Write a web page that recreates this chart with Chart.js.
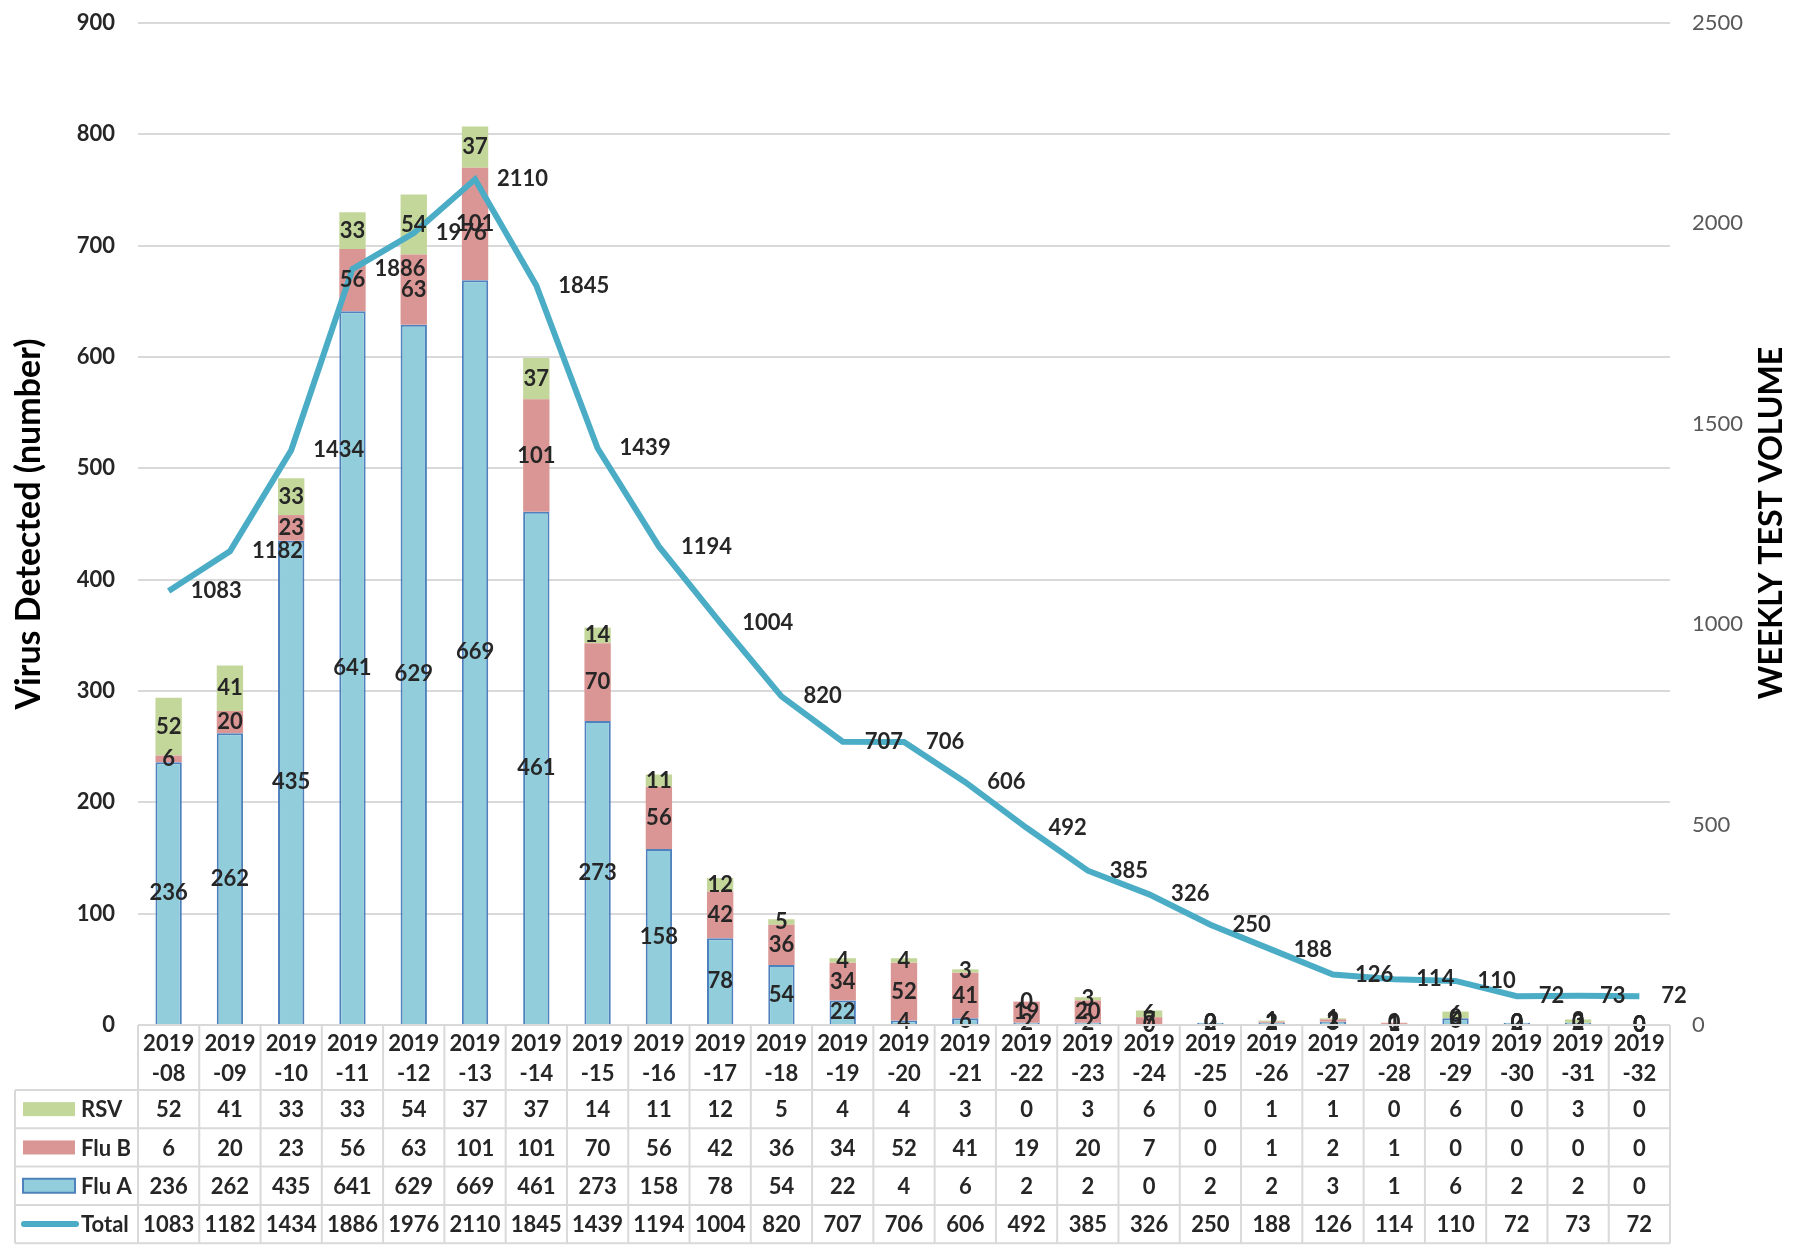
<!DOCTYPE html>
<html>
<head>
<meta charset="utf-8">
<script src="https://cdn.jsdelivr.net/npm/chart.js@4.4.1/dist/chart.umd.min.js"></script>
<style>
  html, body { margin: 0; padding: 0; background: #fff; }
  #wrap { width: 1806px; height: 1254px; position: relative; }
</style>
</head>
<body>
<div id="wrap"><canvas id="virusChart"></canvas></div>
<script>
// ---- data ----
const weeks = ['2019-08','2019-09','2019-10','2019-11','2019-12','2019-13','2019-14','2019-15','2019-16',
  '2019-17','2019-18','2019-19','2019-20','2019-21','2019-22','2019-23','2019-24','2019-25','2019-26',
  '2019-27','2019-28','2019-29','2019-30','2019-31','2019-32'];
const rsv   = [52, 41, 33, 33, 54, 37, 37, 14, 11, 12, 5, 4, 4, 3, 0, 3, 6, 0, 1, 1, 0, 6, 0, 3, 0];
const fluB  = [6, 20, 23, 56, 63, 101, 101, 70, 56, 42, 36, 34, 52, 41, 19, 20, 7, 0, 1, 2, 1, 0, 0, 0, 0];
const fluA  = [236, 262, 435, 641, 629, 669, 461, 273, 158, 78, 54, 22, 4, 6, 2, 2, 0, 2, 2, 3, 1, 6, 2, 2, 0];
const total = [1083, 1182, 1434, 1886, 1976, 2110, 1845, 1439, 1194, 1004, 820, 707, 706, 606, 492, 385,
  326, 250, 188, 126, 114, 110, 72, 73, 72];
const leftTicks  = [0, 100, 200, 300, 400, 500, 600, 700, 800, 900];
const rightTicks = [0, 500, 1000, 1500, 2000, 2500];

// colours
const C_FLUA = '#92CDDC', C_FLUA_EDGE = '#4F81BD';
const C_FLUB = '#DA9694';
const C_RSV  = '#C4D79B';
const C_LINE = '#4BACC6';
const C_GRID = '#D9D9D9';
const C_TEXT = '#262626';
const FONT = 'Lato, "Open Sans", sans-serif';

/**
 * Value labels: centred in each bar segment, right of each line point
 */
const valueLabels = {
  id: 'valueLabels',
  afterDatasetsDraw(chart) {
    const ctx = chart.ctx;
    ctx.save();
    ctx.font = 'bold 22px ' + FONT;
    ctx.fillStyle = C_TEXT;
    ctx.textBaseline = 'middle';
    chart.data.datasets.forEach((ds, di) => {
      const meta = chart.getDatasetMeta(di);
      meta.data.forEach((el, i) => {
        const v = ds.data[i];
        if (ds.type === 'line') {
          ctx.textAlign = 'left';
          ctx.fillText(String(v), el.x + 22, el.y);
        } else {
          ctx.textAlign = 'center';
          ctx.fillText(String(v), el.x, (el.y + el.base) / 2);
        }
      });
    });
    ctx.restore();
  }
};

/**
 * Data table under the x axis + right axis title
 */
const dataTable = {
  id: 'dataTable',
  afterDraw(chart) {
    const { ctx, chartArea, scales } = chart;
    const x = scales.x;
    const n = weeks.length;
    const colW = (chartArea.right - chartArea.left) / n;
    const left = chartArea.left, right = chartArea.right;
    const legL = 15;
    const top = chartArea.bottom;
    const headH = 65;
    const rowH = 38.3;
    const rows = [
      { name: 'RSV',   values: rsv,   kind: 'box',  fill: C_RSV },
      { name: 'Flu B', values: fluB,  kind: 'box',  fill: C_FLUB },
      { name: 'Flu A', values: fluA,  kind: 'box',  fill: C_FLUA, edge: C_FLUA_EDGE },
      { name: 'Total', values: total, kind: 'line', fill: C_LINE }
    ];
    const bodyTop = top + headH;
    const bottom = bodyTop + rowH * rows.length;

    ctx.save();
    ctx.strokeStyle = C_GRID;
    ctx.lineWidth = 2;
    ctx.beginPath();
    // header top
    ctx.moveTo(left, top); ctx.lineTo(right, top);
    // row lines
    for (let r = 0; r <= rows.length; r++) {
      const y = bodyTop + r * rowH;
      ctx.moveTo(legL, y); ctx.lineTo(right, y);
    }
    // column lines
    for (let c = 0; c <= n; c++) {
      const xx = left + c * colW;
      ctx.moveTo(xx, top); ctx.lineTo(xx, bottom);
    }
    ctx.moveTo(legL, bodyTop); ctx.lineTo(legL, bottom);
    ctx.stroke();

    ctx.font = 'bold 22px ' + FONT;
    ctx.fillStyle = C_TEXT;
    ctx.textBaseline = 'middle';
    rows.forEach((row, r) => {
      const cy = bodyTop + r * rowH + rowH / 2;
      // legend key
      if (row.kind === 'box') {
        ctx.fillStyle = row.fill;
        ctx.fillRect(23, cy - 7, 52, 14);
        if (row.edge) {
          ctx.strokeStyle = row.edge;
          ctx.lineWidth = 2;
          ctx.strokeRect(23, cy - 7, 52, 14);
        }
      } else {
        ctx.strokeStyle = row.fill;
        ctx.lineWidth = 6;
        ctx.lineCap = 'round';
        ctx.beginPath();
        ctx.moveTo(24, cy); ctx.lineTo(76, cy);
        ctx.stroke();
      }
      ctx.fillStyle = C_TEXT;
      ctx.textAlign = 'left';
      ctx.fillText(row.name, 81, cy + 1);
      // values
      ctx.textAlign = 'center';
      row.values.forEach((v, i) => {
        ctx.fillText(String(v), x.getPixelForValue(i), cy + 1);
      });
    });

    // right axis title, reading bottom to top
    ctx.font = 'bold 32px ' + FONT;
    ctx.fillStyle = '#000';
    ctx.textAlign = 'center';
    ctx.textBaseline = 'middle';
    ctx.translate(chart.width - 34, 523);
    ctx.rotate(-Math.PI / 2);
    ctx.fillText('WEEKLY TEST VOLUME', 0, 0);
    ctx.restore();
  }
};

new Chart(document.getElementById('virusChart'), {
  type: 'bar',
  plugins: [valueLabels, dataTable],
  data: {
    labels: weeks.map(w => [w.slice(0, 4), w.slice(4)]),
    datasets: [
      {
        type: 'line',
        label: 'Total',
        data: total,
        yAxisID: 'y1',
        borderColor: C_LINE,
        backgroundColor: C_LINE,
        borderWidth: 6,
        pointRadius: 0,
        tension: 0,
        order: 0
      },
      {
        label: 'Flu A',
        data: fluA,
        backgroundColor: C_FLUA,
        borderColor: C_FLUA_EDGE,
        borderWidth: 2,
        order: 1
      },
      {
        label: 'Flu B',
        data: fluB,
        backgroundColor: C_FLUB,
        borderWidth: 0,
        order: 1
      },
      {
        label: 'RSV',
        data: rsv,
        backgroundColor: C_RSV,
        borderWidth: 0,
        order: 1
      }
    ]
  },
  options: {
    responsive: true,
    maintainAspectRatio: false,
    animation: false,
    layout: { padding: { top: 23, left: 0, right: 0, bottom: 0 } },
    datasets: {
      bar: { barPercentage: 0.43, categoryPercentage: 1 }
    },
    plugins: {
      legend: { display: false },
      tooltip: { enabled: false }
    },
    scales: {
      x: {
        stacked: true,
        grid: { display: false },
        border: { display: false },
        ticks: {
          autoSkip: false,
          maxRotation: 0,
          padding: -4,
          color: C_TEXT,
          font: { family: FONT, size: 22, weight: 'bold', lineHeight: 1.36 }
        },
        afterFit: s => { s.height = 229; }
      },
      y: {
        stacked: true,
        position: 'left',
        min: 0,
        max: 900,
        afterBuildTicks: s => { s.ticks = leftTicks.map(v => ({ value: v })); },
        grid: { color: C_GRID, lineWidth: 2, drawTicks: true, tickLength: 20, tickColor: 'rgba(0,0,0,0)' },
        border: { display: false },
        ticks: {
          padding: 3,
          color: C_TEXT,
          font: { family: FONT, size: 22, weight: 'bold' }
        },
        title: {
          display: true,
          text: 'Virus Detected (number)',
          color: '#000',
          padding: { top: 9, bottom: 0 },
          font: { family: FONT, size: 34, weight: 'bold' }
        },
        afterFit: s => { s.width = 138; }
      },
      y1: {
        position: 'right',
        min: 0,
        max: 2500,
        afterBuildTicks: s => { s.ticks = rightTicks.map(v => ({ value: v })); },
        grid: { drawOnChartArea: false, drawTicks: true, tickLength: 19, tickColor: 'rgba(0,0,0,0)' },
        border: { display: false },
        ticks: {
          padding: 3,
          color: '#595959',
          font: { family: FONT, size: 22 },
          callback: v => String(v)
        },
        afterFit: s => { s.width = 136; }
      }
    }
  }
});
</script>
</body>
</html>
